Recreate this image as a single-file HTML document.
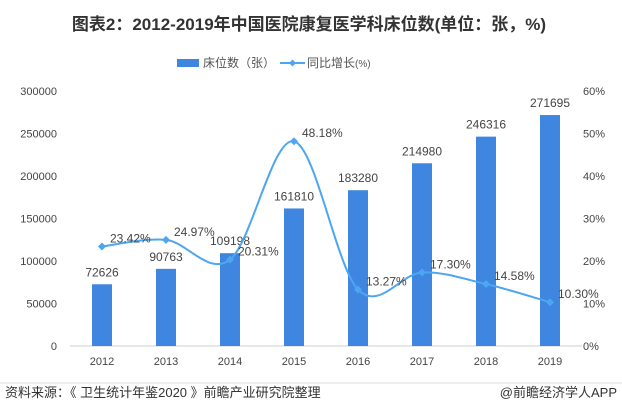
<!DOCTYPE html>
<html><head><meta charset="utf-8"><style>
body{margin:0;background:#fff;}
svg text{font-family:"Liberation Sans","Noto Sans CJK SC",sans-serif;}
</style></head><body>
<svg id="s" width="622" height="412" xmlns="http://www.w3.org/2000/svg">
<text x="309" y="30" text-anchor="middle" font-size="17" font-weight="bold" fill="#333">图表2：2012-2019年中国医院康复医学科床位数(单位：张，%)</text>
<rect x="177" y="59" width="22" height="8" fill="#3f86e0"/>
<text x="203" y="67" font-size="12" fill="#555">床位数（张）</text>
<line x1="280" y1="63" x2="305" y2="63" stroke="#4da6f0" stroke-width="2"/>
<path d="M292.5 59.5 L296 63 L292.5 66.5 L289 63Z" fill="#4da6f0"/>
<text x="307" y="67" font-size="12" fill="#555">同比增长<tspan font-size="10">(%)</tspan></text>
<line x1="70" y1="346" x2="582" y2="346" stroke="#ccc"/>
<g id="g" font-size="11" fill="#444"></g>
<line x1="0" y1="383" x2="622" y2="383" stroke="#bbb" stroke-width="0.5"/>
<text x="5" y="397" font-size="13" fill="#333">资料来源：《 卫生统计年鉴2020 》前瞻产业研究院整理</text>
<text x="617" y="397" font-size="13" fill="#333" text-anchor="end">@前瞻经济学人APP</text>
</svg>
<script>
var g=document.getElementById('g'),h='';
var v=[72626,90763,109198,161810,183280,214980,246316,271695];
var p=[23.42,24.97,20.31,48.18,13.27,17.30,14.58,10.30];
for(var i=0;i<=6;i++){var y=346-i*42.5;
h+='<text x="57" y="'+(y+4)+'" text-anchor="end">'+(i*50000)+'</text>';
h+='<text x="583" y="'+(y+4)+'">'+(i*10)+'%</text>';}
var pts=[];
for(var i=0;i<8;i++){var x=102+i*64,bh=v[i]/50000*42.5;
h+='<rect x="'+(x-10)+'" y="'+(346-bh)+'" width="20" height="'+bh+'" fill="#3f86e0"/>';
h+='<text x="'+x+'" y="'+(346-bh-8)+'" text-anchor="middle" font-size="12">'+v[i]+'</text>';
h+='<text x="'+x+'" y="365" text-anchor="middle">'+(2012+i)+'</text>';
pts.push([x,346-p[i]*4.25]);}
var d='M'+pts[0];
for(var i=0;i<7;i++){var p0=pts[Math.max(i-1,0)],p1=pts[i],p2=pts[i+1],p3=pts[Math.min(i+2,7)],t=0.5/3*2;
d+=' C'+(p1[0]+(p2[0]-p0[0])*t/2)+' '+(p1[1]+(p2[1]-p0[1])*t/2)+' '+(p2[0]-(p3[0]-p1[0])*t/2)+' '+(p2[1]-(p3[1]-p1[1])*t/2)+' '+p2[0]+' '+p2[1];}
h+='<path d="'+d+'" fill="none" stroke="#4da6f0" stroke-width="2"/>';
for(var i=0;i<8;i++){var x=pts[i][0],y=pts[i][1];
h+='<path d="M'+x+' '+(y-4)+'L'+(x+4)+' '+y+'L'+x+' '+(y+4)+'L'+(x-4)+' '+y+'Z" fill="#4da6f0"/>';
h+='<text x="'+(x+8)+'" y="'+(y-4)+'" font-size="12">'+p[i].toFixed(2)+'%</text>';}
g.innerHTML=h;
</script>
</body></html>
